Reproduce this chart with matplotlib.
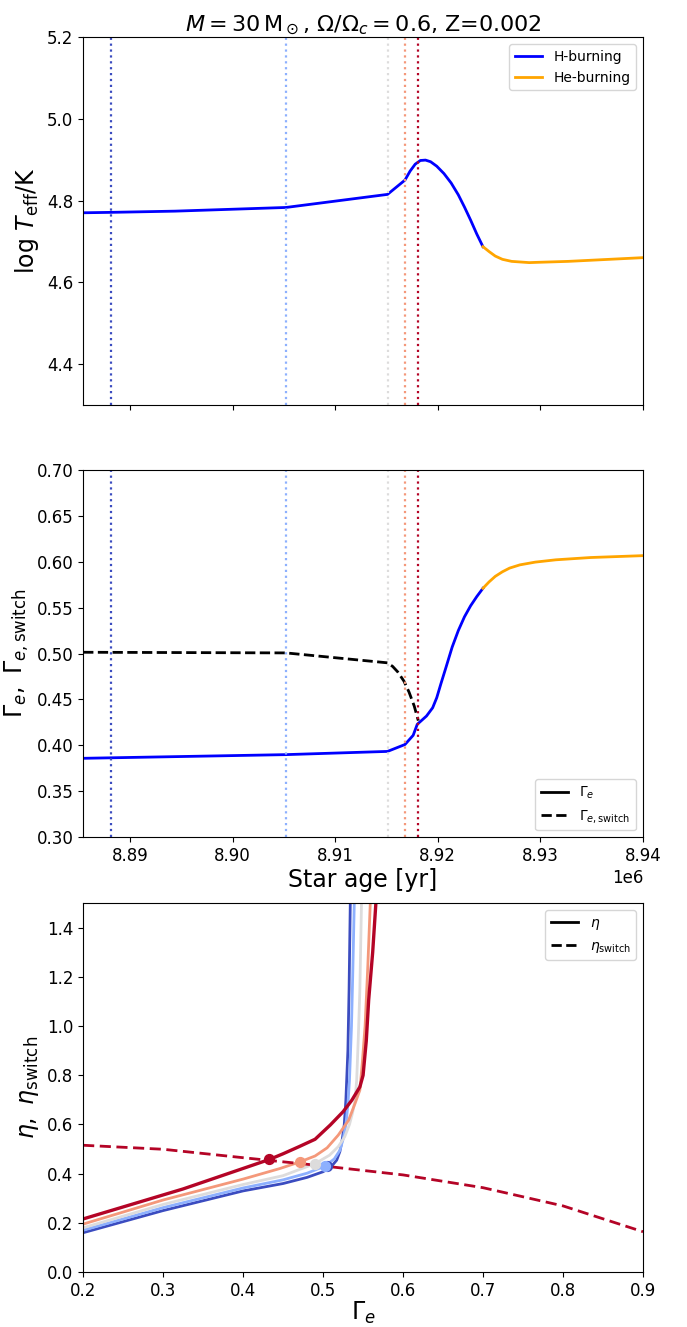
import numpy as np
import matplotlib.pyplot as plt
from matplotlib.lines import Line2D

# star age [1e6 yr] and log Teff
age_h = [8.88544, 8.8881, 8.8944, 8.9052, 8.9151, 8.9168, 8.9173, 8.9178, 8.9183,
         8.9188, 8.9193, 8.9199, 8.9206, 8.9213, 8.9220, 8.9226, 8.9232, 8.9238, 8.9244]
logT_h = [4.770, 4.771, 4.774, 4.783, 4.815, 4.850, 4.872, 4.889, 4.898,
          4.899, 4.895, 4.884, 4.866, 4.843, 4.814, 4.784, 4.752, 4.718, 4.687]
age_he = [8.9244, 8.9250, 8.9256, 8.9263, 8.9272, 8.9289, 8.9327, 8.9399]
logT_he = [4.687, 4.675, 4.664, 4.656, 4.651, 4.648, 4.651, 4.660]

# Gamma_e along the track
age_gh = [8.88544, 8.9052, 8.9151, 8.9168, 8.9176, 8.9180, 8.9189, 8.9195, 8.9199,
          8.9203, 8.9208, 8.9214, 8.9220, 8.9226, 8.9232, 8.9238, 8.9244]
gam_h = [0.386, 0.390, 0.3935, 0.401, 0.411, 0.423, 0.432, 0.441, 0.452,
         0.467, 0.485, 0.507, 0.525, 0.540, 0.552, 0.562, 0.571]
age_ghe = [8.9244, 8.9250, 8.9256, 8.9263, 8.9270, 8.9280, 8.9295, 8.9315, 8.9349, 8.9399]
gam_he = [0.571, 0.578, 0.584, 0.589, 0.593, 0.5965, 0.5995, 0.602, 0.6045, 0.6065]
age_sw = [8.88544, 8.9052, 8.9151, 8.9156, 8.9161, 8.9167, 8.9172, 8.9177, 8.9181]
gam_sw = [0.5014, 0.5007, 0.4899, 0.486, 0.480, 0.470, 0.458, 0.443, 0.427]

# selected ages (vertical lines)
sel_ages = [8.88813, 8.90521, 8.9151, 8.9168, 8.9181]
sel_cols = plt.cm.coolwarm(np.linspace(0, 1, len(sel_ages)))

# eta vs Gamma_e for each selected model
gam_eta = [
    [0.200, 0.300, 0.400, 0.450, 0.480, 0.500, 0.510, 0.517, 0.521, 0.524,
     0.5265, 0.5285, 0.531, 0.5325, 0.534],
    [0.200, 0.300, 0.400, 0.450, 0.480, 0.5025, 0.514, 0.521, 0.525, 0.5285,
     0.531, 0.533, 0.5355, 0.537, 0.539],
    [0.200, 0.300, 0.400, 0.450, 0.490, 0.508, 0.519, 0.527, 0.533, 0.537,
     0.540, 0.542, 0.544, 0.546, 0.548],
    [0.200, 0.300, 0.400, 0.446, 0.471, 0.490, 0.505, 0.519, 0.532, 0.540,
     0.546, 0.549, 0.5525, 0.556, 0.559],
    [0.200, 0.325, 0.433, 0.450, 0.470, 0.490, 0.509, 0.525, 0.536, 0.546,
     0.550, 0.554, 0.557, 0.562, 0.566],
]
eta = [
    [0.160, 0.250, 0.330, 0.360, 0.385, 0.408, 0.428, 0.455, 0.49, 0.54,
     0.60, 0.70, 0.90, 1.15, 1.50],
    [0.170, 0.262, 0.342, 0.375, 0.402, 0.431, 0.460, 0.495, 0.54, 0.60,
     0.68, 0.78, 1.00, 1.20, 1.50],
    [0.180, 0.275, 0.356, 0.392, 0.441, 0.475, 0.510, 0.550, 0.600, 0.650,
     0.700, 0.780, 0.950, 1.150, 1.500],
    [0.195, 0.293, 0.378, 0.421, 0.448, 0.472, 0.505, 0.557, 0.618, 0.686,
     0.740, 0.850, 1.000, 1.250, 1.500],
    [0.216, 0.338, 0.458, 0.481, 0.510, 0.540, 0.598, 0.652, 0.699, 0.753,
     0.800, 0.940, 1.106, 1.300, 1.500],
]
dot_gam = [0.505, 0.5025, 0.490, 0.471, 0.433]
dot_eta = [0.431, 0.431, 0.441, 0.448, 0.458]

gam_grid = [0.2, 0.3, 0.4, 0.5, 0.6, 0.7, 0.8, 0.9]
eta_sw = [0.5156, 0.4993, 0.465, 0.4315, 0.395, 0.343, 0.269, 0.164]

plt.rcParams['font.size'] = 12

fig = plt.figure(figsize=(6.87, 13.27), dpi=100)
ax1 = fig.add_axes([0.121, 0.695, 0.815, 0.277])
ax2 = fig.add_axes([0.121, 0.369, 0.815, 0.277], sharex=ax1)
ax3 = fig.add_axes([0.121, 0.0414, 0.815, 0.278])

# top panel
ax1.plot(np.array(age_h) * 1e6, logT_h, color='blue', lw=2, label='H-burning')
ax1.plot(np.array(age_he) * 1e6, logT_he, color='orange', lw=2, label='He-burning')
for a, c in zip(sel_ages, sel_cols):
    ax1.axvline(a * 1e6, color=c, ls=':', lw=1.6)
ax1.set_ylim(4.3, 5.2)
ax1.set_yticks([4.4, 4.6, 4.8, 5.0, 5.2])
ax1.set_ylabel(r'$\log\,T_{\rm eff}/{\rm K}$', fontsize=17)
ax1.legend(loc='upper right', fontsize=10)
ax1.set_title(r'$M = 30\,{\rm M}_\odot$, $\Omega/\Omega_c = 0.6$, Z=0.002', fontsize=16, pad=4)
ax1.tick_params(labelbottom=False)

# middle panel
ax2.plot(np.array(age_gh) * 1e6, gam_h, color='blue', lw=2)
ax2.plot(np.array(age_ghe) * 1e6, gam_he, color='orange', lw=2)
ax2.plot(np.array(age_sw) * 1e6, gam_sw, color='k', ls='--', lw=2)
for a, c in zip(sel_ages, sel_cols):
    ax2.axvline(a * 1e6, color=c, ls=':', lw=1.6)
ax2.set_xlim(8.88544e6, 8.94e6)
ax2.set_ylim(0.3, 0.7)
ax2.set_ylabel(r'$\Gamma_e,\ \Gamma_{e,\rm switch}$', fontsize=17)
ax2.set_xlabel('Star age [yr]', fontsize=17, labelpad=2)
h2 = [Line2D([], [], color='k', lw=2), Line2D([], [], color='k', lw=2, ls='--')]
ax2.legend(h2, [r'$\Gamma_e$', r'$\Gamma_{e,\rm switch}$'], loc='lower right', fontsize=10)

# bottom panel
for i, (g, e, c) in enumerate(zip(gam_eta, eta, sel_cols)):
    ax3.plot(g, e, color=c, lw=2.4 if i == len(sel_cols) - 1 else 2)
ax3.plot(gam_grid, eta_sw, color=sel_cols[-1], ls='--', lw=2, dashes=(4, 2))
for g, e, c in zip(dot_gam, dot_eta, sel_cols):
    ax3.scatter(g, e, color=c, s=50, zorder=5)
ax3.set_xlim(0.2, 0.9)
ax3.set_ylim(0.0, 1.5)
ax3.set_xlabel(r'$\Gamma_e$', fontsize=17, labelpad=0)
ax3.set_ylabel(r'$\eta,\ \eta_{\rm switch}$', fontsize=17)
h3 = [Line2D([], [], color='k', lw=2), Line2D([], [], color='k', lw=2, ls='--')]
ax3.legend(h3, [r'$\eta$', r'$\eta_{\rm switch}$'], loc='upper right', fontsize=10)

fig.savefig('out.png', dpi=100)
